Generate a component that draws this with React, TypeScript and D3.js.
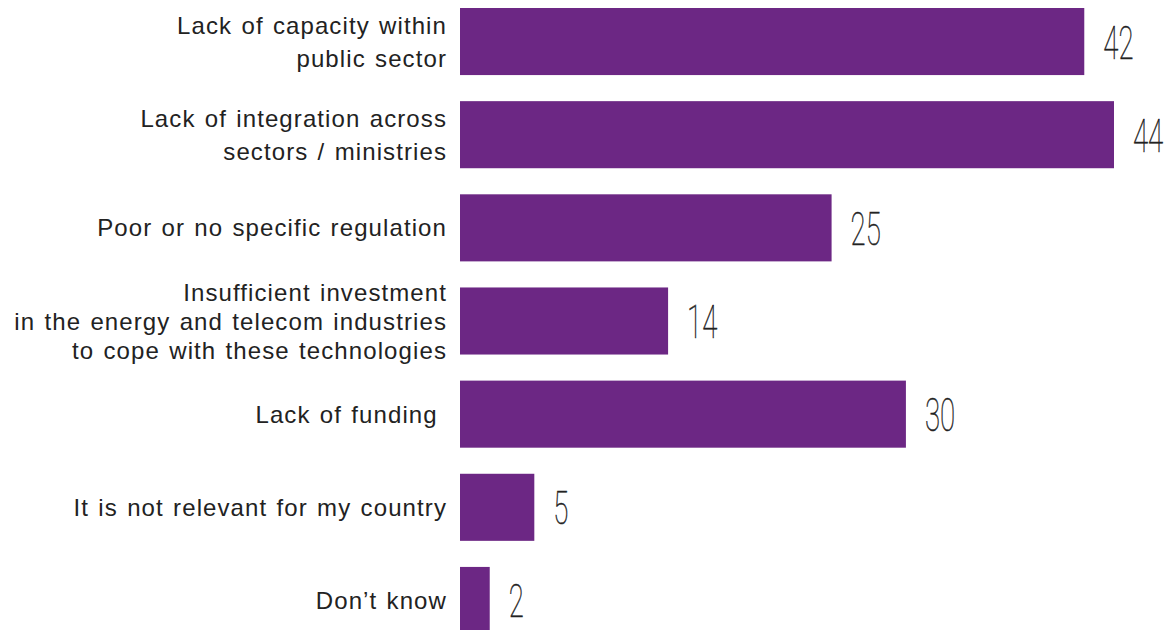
import * as d3 from 'd3'

const categories = [
  'Lack of capacity within|public sector',
  'Lack of integration across|sectors / ministries',
  'Poor or no specific regulation',
  'Insufficient investment|in the energy and telecom industries|to cope with these technologies',
  'Lack of funding\u00a0',
  'It is not relevant for my country',
  'Don\u2019t know',
]
const values = [42, 44, 25, 14, 30, 5, 2]

const W = 1173
const H = 630
const purple = '#6c2784'

export default function App() {
  const x = d3.scaleLinear().domain([0, 44]).range([460, 1114])
  const y = d3.scaleBand<string>()
    .domain(categories)
    .range([8, 634])
    .paddingInner(0.28)
    .paddingOuter(0)

  return (
    <svg width={W} height={H} style={{ position: 'absolute', left: 0, top: 0, background: '#fff' }}>
      {categories.map((c, i) => {
        const y0 = y(c)!
        const cy = y0 + y.bandwidth() / 2
        const lines = c.split('|')
        const gap = lines.length === 3 ? 29 : 33
        const firstY = cy - ((lines.length - 1) * gap) / 2
        const vx = x(values[i]) + 19
        return (
          <g key={c}>
            <rect x={x(0)} y={y0} width={x(values[i]) - x(0)} height={y.bandwidth()} fill={purple} />
            {lines.map((l, j) => (
              <text
                key={j}
                x={447}
                y={firstY + j * gap + 8.5}
                textAnchor="end"
                fontFamily="'Liberation Sans', Arial, sans-serif"
                fontSize={24}
                letterSpacing={1.1}
                wordSpacing={1.5}
                fill="#222"
              >
                {l}
              </text>
            ))}
            <text
              transform={`translate(${vx},${cy + 17}) scale(0.6,1)`}
              fontFamily="Roboto, 'DejaVu Sans', sans-serif"
              fontWeight={100}
              fontSize={46}
              fill="#222"
              stroke="#222"
              strokeWidth={0.5}
            >
              {values[i]}
            </text>
          </g>
        )
      })}
    </svg>
  )
}
